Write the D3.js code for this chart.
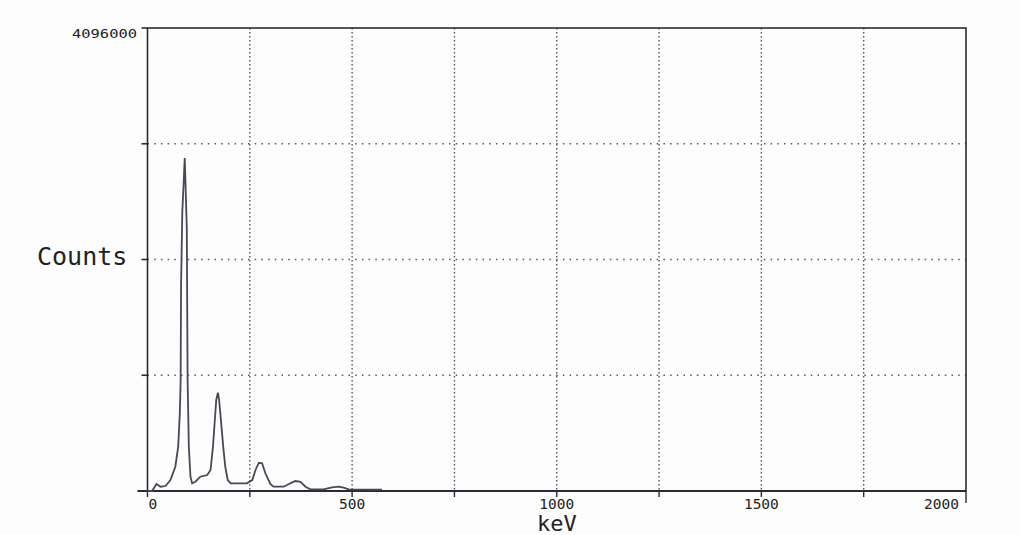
<!DOCTYPE html>
<html>
<head>
<meta charset="utf-8">
<script src="https://cdn.jsdelivr.net/npm/d3@7"></script>
<style>
  html, body { margin: 0; padding: 0; background: #fcfdfc; }
  svg { display: block; }
  text { font-family: "DejaVu Sans Mono", "Liberation Mono", monospace; fill: #222; }
</style>
</head>
<body>
<svg id="chart" width="1020" height="535"></svg>
<script>
// Gamma spectrum: energy (keV) against counts
const energyKeV = [0, 11, 22, 32, 44, 56, 68, 75, 79, 81, 82, 85, 91, 96, 98, 101, 105, 109,
  117, 129, 146, 154, 160, 164, 168, 172, 175, 180, 185, 190, 196, 203, 243, 256, 264,
  272, 280, 288, 300, 308, 333, 349, 361, 374, 386, 398, 430, 451, 467, 479, 492, 573];
const counts = [0, 0, 62000, 38000, 44000, 97000, 215000, 392000, 690000, 982000, 1822000,
  2459000, 2946000, 2327000, 982000, 392000, 126500, 68000,
  82000, 126500, 141500, 186000, 392000, 602000, 805000, 870000, 805000, 602000, 392000,
  215000, 97000, 68000, 68000, 97000, 186000,
  250000, 245000, 157000, 62000, 38000, 38000, 68000, 88000, 80000, 38000, 15000, 15000,
  33000, 38000, 29000, 15000, 11500];

const xDomain = [0, 2000];
const yDomain = [0, 4096000];
const xGridValues = [250, 500, 750, 1000, 1250, 1500, 1750];
const xTickValues = [0, 250, 500, 750, 1000, 1250, 1500, 1750, 2000];
const xLabelValues = [0, 500, 1000, 1500, 2000];
const xTickLabels = ["0", "500", "1000", "1500", "2000"];
const yGridValues = [1024000, 2048000, 3072000];
const yTopLabel = "4096000";
const yTitle = "Counts";
const xTitle = "keV";

const svg = d3.select("#chart");
const plotLeft = 147.5, plotRight = 966, plotTop = 28, plotBottom = 491;

const x = d3.scaleLinear().domain(xDomain).range([plotLeft, plotRight]);
const y = d3.scaleLinear().domain(yDomain).range([plotBottom, plotTop]);

const ink = "#2b2b33";

// dotted grid
svg.append("g").selectAll("line").data(yGridValues).join("line")
  .attr("x1", plotLeft).attr("x2", plotRight)
  .attr("y1", d => y(d)).attr("y2", d => y(d))
  .attr("stroke", "#55585f").attr("stroke-width", 1.5)
  .attr("stroke-dasharray", "1.5 5.2");

svg.append("g").selectAll("line").data(xGridValues).join("line")
  .attr("x1", d => x(d)).attr("x2", d => x(d))
  .attr("y1", plotTop).attr("y2", plotBottom)
  .attr("stroke", "#55585f").attr("stroke-width", 1.4)
  .attr("stroke-dasharray", "1.4 2.6");

// y ticks (outward)
svg.append("g").selectAll("line").data([...yGridValues, yDomain[1]]).join("line")
  .attr("x1", plotLeft - 6).attr("x2", plotLeft)
  .attr("y1", d => y(d)).attr("y2", d => y(d))
  .attr("stroke", ink).attr("stroke-width", 1.6);

// x ticks (downward)
svg.append("g").selectAll("line").data(xTickValues).join("line")
  .attr("x1", d => x(d)).attr("x2", d => x(d))
  .attr("y1", plotBottom).attr("y2", d => d === xDomain[1] ? plotBottom + 12 : plotBottom + 6)
  .attr("stroke", ink).attr("stroke-width", 1.4);

// frame
svg.append("line").attr("x1", plotLeft - 10).attr("x2", plotRight)
  .attr("y1", plotBottom).attr("y2", plotBottom).attr("stroke", ink).attr("stroke-width", 1.8);
svg.append("rect").attr("x", plotLeft).attr("y", plotTop)
  .attr("width", plotRight - plotLeft).attr("height", plotBottom - plotTop)
  .attr("fill", "none").attr("stroke", ink).attr("stroke-width", 1.6);

// spectrum trace
const line = d3.line()
  .x((d, i) => x(energyKeV[i]))
  .y(d => y(d));
svg.append("path")
  .attr("d", line(counts))
  .attr("fill", "none")
  .attr("stroke", "#464a55")
  .attr("stroke-width", 1.8)
  .attr("stroke-linejoin", "miter");

// x tick labels (end labels kept inside the frame)
svg.append("g").selectAll("text").data(xLabelValues).join("text")
  .attr("x", d => d === xDomain[0] ? x(d) + 1 : (d === xDomain[1] ? x(d) - 7 : x(d)))
  .attr("y", 509)
  .attr("text-anchor", d => d === xDomain[0] ? "start" : (d === xDomain[1] ? "end" : "middle"))
  .attr("font-size", 14.5)
  .text((d, i) => xTickLabels[i]);

// y top label
svg.append("text")
  .attr("x", 137).attr("y", 37.5)
  .attr("text-anchor", "end")
  .attr("font-size", 13)
  .attr("textLength", 65).attr("lengthAdjust", "spacingAndGlyphs")
  .text(yTopLabel);

// axis titles
svg.append("text")
  .attr("x", 37).attr("y", 265)
  .attr("font-size", 25)
  .text(yTitle);

svg.append("text")
  .attr("x", 537).attr("y", 531)
  .attr("font-size", 22)
  .text(xTitle);
</script>
</body>
</html>
